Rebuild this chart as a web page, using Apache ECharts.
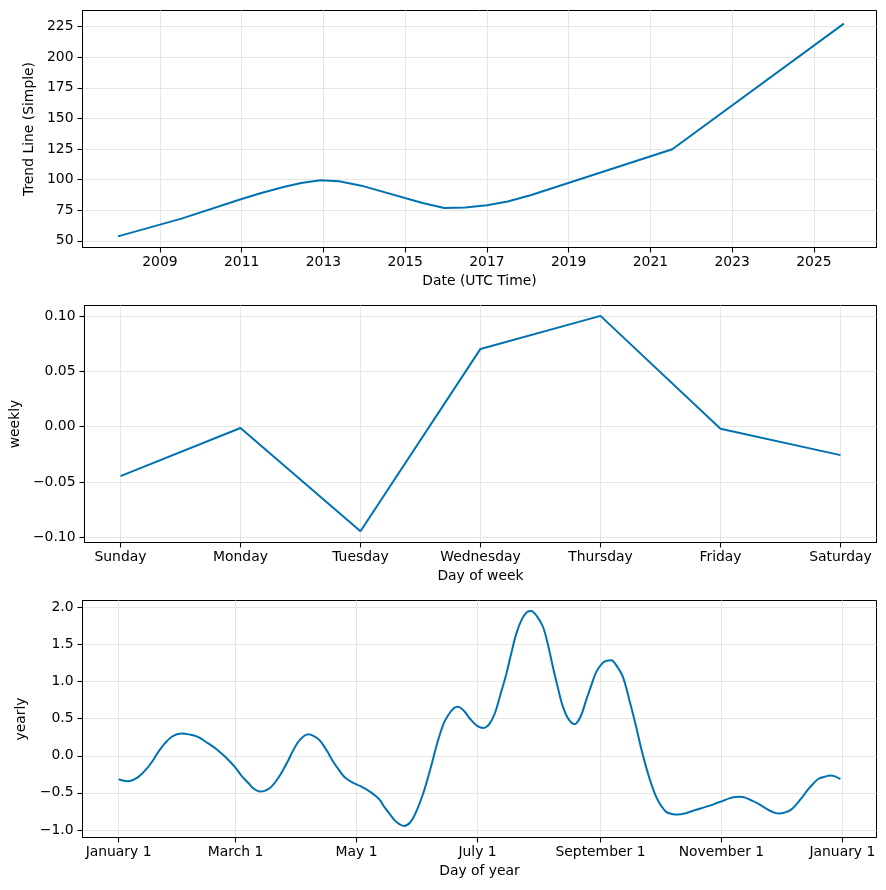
<!DOCTYPE html>
<html><head><meta charset="utf-8">
<script src="https://cdn.jsdelivr.net/npm/echarts@6/dist/echarts.min.js"></script>
<style>html,body{margin:0;padding:0;background:#fff}#c{width:886px;height:890px}</style>
</head><body><div id="c"></div>
<script>
// ---------- Panel 1: trend ----------
const trendDates = ['2007-12-22','2009-07-12','2010-12-31','2011-06-25','2012-01-10','2012-06-15','2012-12-05','2013-05-20','2013-12-05','2015-06-05','2015-12-15','2016-06-20','2017-01-01','2017-07-05','2018-01-25','2021-07-15','2025-09-25'];
const trendValues = [53.7,68.2,84.2,89.1,94.0,97.3,99.5,98.7,95.1,81.0,76.9,77.2,79.1,82.1,87.2,124.8,227.4];
const bandDates = ['2021-07-15','2023-06-01','2024-09-01','2025-09-25'];
const bandLower = [124.8,170.3,200.5,225.6];
const bandUpper = [124.8,171.0,202.0,229.0];
const trendYTicks = [50,75,100,125,150,175,200,225];
const trendXTickYears = [2009,2011,2013,2015,2017,2019,2021,2023,2025];

// ---------- Panel 2: weekly ----------
const weekDays = ['Sunday','Monday','Tuesday','Wednesday','Thursday','Friday','Saturday'];
const weeklyValues = [-0.0447,-0.0012,-0.0946,0.0704,0.1003,-0.0018,-0.0257];
const weeklyYTicks = [-0.10,-0.05,0.00,0.05,0.10];

// ---------- Panel 3: yearly ----------
const yearDays = [0,2,4.6,7,10,14,17.4,20,23,27,
  31.6,36,40,45,50,54,58.6,62,65.7,68,
  71.4,74,77,81,85.6,88,91.3,95.6,98,101.3,
  105,108,111.2,114,118.3,122,126.9,129.5,131.8,134,
  136.8,140,143.9,147,150,153.6,157,161.1,164,166.2,
  169,171,174,177.1,181,184.1,187,189.7,192.5,195.6,
  198,200.6,203.5,206,208.1,211,214,216.5,219,221.5,
  224.1,227,230,233,235.8,238.5,240.9,244,246,248.4,
  251,254.3,257.5,261,263.5,266,268.5,271.1,273.5,276.1,
  279,282,286,290.5,296,300,304.7,308,311,313.2,
  316,319,321.8,325,328,331,333.1,336,338.8,342,
  345,347.4,350.5,353,356,358.7,361,364];
const yearlyValues = [-0.316,-0.335,-0.343,-0.33,-0.285,-0.18,-0.06,0.05,0.156,0.26,
  0.30,0.285,0.255,0.17,0.075,-0.02,-0.15,-0.27,-0.375,-0.44,
  -0.483,-0.47,-0.42,-0.28,-0.06,0.07,0.21,0.29,0.27,0.21,
  0.07,-0.07,-0.194,-0.29,-0.365,-0.41,-0.486,-0.54,-0.600,-0.69,
  -0.788,-0.89,-0.946,-0.90,-0.76,-0.509,-0.20,0.21,0.44,0.547,
  0.64,0.66,0.61,0.503,0.40,0.376,0.43,0.57,0.82,1.11,
  1.38,1.65,1.85,1.94,1.954,1.88,1.74,1.50,1.20,0.92,
  0.66,0.49,0.426,0.53,0.75,0.96,1.131,1.25,1.28,1.289,
  1.22,1.064,0.76,0.39,0.10,-0.15,-0.37,-0.555,-0.67,-0.757,
  -0.785,-0.793,-0.775,-0.734,-0.69,-0.655,-0.608,-0.575,-0.557,-0.554,
  -0.565,-0.60,-0.635,-0.685,-0.735,-0.77,-0.779,-0.765,-0.734,-0.65,
  -0.55,-0.464,-0.37,-0.31,-0.284,-0.266,-0.275,-0.316];
const yearTickDays = [0,59,120,181,243,304,365];
const yearTickLabels = ['January 1','March 1','May 1','July 1','September 1','November 1','January 1'];
const yearlyYTicks = [-1.0,-0.5,0.0,0.5,1.0,1.5,2.0];

// ---------- build ----------
// date string -> fractional year (UTC)
const toYear = s => {
  const p = s.split('-').map(Number);
  const a = Date.UTC(p[0],0,1), b = Date.UTC(p[0]+1,0,1);
  return p[0] + (Date.UTC(p[0],p[1]-1,p[2]) - a) / (b - a);
};
const LINE = '#0072B2';
const FONT = {fontFamily:'DejaVu Sans', fontSize:13.9, color:'#000'};
const GRIDLINE = {show:true, lineStyle:{color:'#e6e6e6', width:1}};
const TICK = {show:true, length:5, lineStyle:{color:'#000', width:1.1}};
const AXLINE = {show:true, onZero:false, lineStyle:{color:'#000', width:1}};
const minus = s => s.replace('-', '\u2212');

function yAxis(gi, min, max, ticks, fmt, name, gap) {
  return {type:'value', gridIndex:gi, min, max, name, nameLocation:'middle', nameGap:gap, nameRotate:90,
    nameTextStyle:{...FONT},
    axisLine:AXLINE,
    axisTick:{...TICK, customValues:ticks},
    axisLabel:{...FONT, margin:9, customValues:ticks, formatter:fmt},
    splitLine:GRIDLINE};
}
function xAxis(gi, min, max, ticks, fmt, name) {
  return {type:'value', gridIndex:gi, min, max, name, nameLocation:'middle', nameGap:27,
    nameTextStyle:{...FONT},
    axisLine:AXLINE,
    axisTick:{...TICK, customValues:ticks},
    axisLabel:{...FONT, margin:8, customValues:ticks, formatter:fmt, hideOverlap:false},
    splitLine:GRIDLINE};
}

const grids = [10.5, 305.5, 600.5].map(t => ({left:82.5, top:t, width:794, height:237, show:true, borderColor:'#000', borderWidth:1, backgroundColor:'transparent'}));

const option = {
  animation:false,
  backgroundColor:'#fff',
  grid:grids,
  xAxis:[
    xAxis(0, 2007.105, 2026.53, trendXTickYears, v => String(Math.round(v)), 'Date (UTC Time)'),
    xAxis(1, -0.3, 6.3, weekDays.map((d,i)=>i), v => weekDays[Math.round(v)], 'Day of week'),
    xAxis(2, -18.2, 382.2, yearTickDays, v => yearTickLabels[yearTickDays.indexOf(v)] || '', 'Day of year')
  ],
  yAxis:[
    yAxis(0, 44.6, 238.1, trendYTicks, v => String(v), 'Trend Line (Simple)', 41),
    yAxis(1, -0.1048, 0.1097, weeklyYTicks, v => minus(v.toFixed(2)), 'weekly', 56),
    yAxis(2, -1.1025, 2.094, yearlyYTicks, v => minus(v.toFixed(1)), 'yearly', 47)
  ],
  series:[
    {type:'line', xAxisIndex:0, yAxisIndex:0, stack:'band', symbol:'none', silent:true,
     lineStyle:{width:0, opacity:0}, data:bandDates.map((d,i)=>[toYear(d), bandLower[i]])},
    {type:'line', xAxisIndex:0, yAxisIndex:0, stack:'band', symbol:'none', silent:true,
     lineStyle:{width:0, opacity:0}, areaStyle:{color:LINE, opacity:0.2},
     data:bandDates.map((d,i)=>[toYear(d), bandUpper[i]-bandLower[i]])},
    {type:'line', xAxisIndex:0, yAxisIndex:0, symbol:'none', lineStyle:{color:LINE, width:2},
     data:trendDates.map((d,i)=>[toYear(d), trendValues[i]])},
    {type:'line', xAxisIndex:1, yAxisIndex:1, symbol:'none', lineStyle:{color:LINE, width:2},
     data:weeklyValues.map((v,i)=>[i, v])},
    {type:'line', xAxisIndex:2, yAxisIndex:2, symbol:'none', smooth:0.35, lineStyle:{color:LINE, width:2},
     data:yearDays.map((d,i)=>[d, yearlyValues[i]])}
  ]
};
const chart = echarts.init(document.getElementById('c'), null, {renderer:'canvas'});
chart.setOption(option);
</script></body></html>
